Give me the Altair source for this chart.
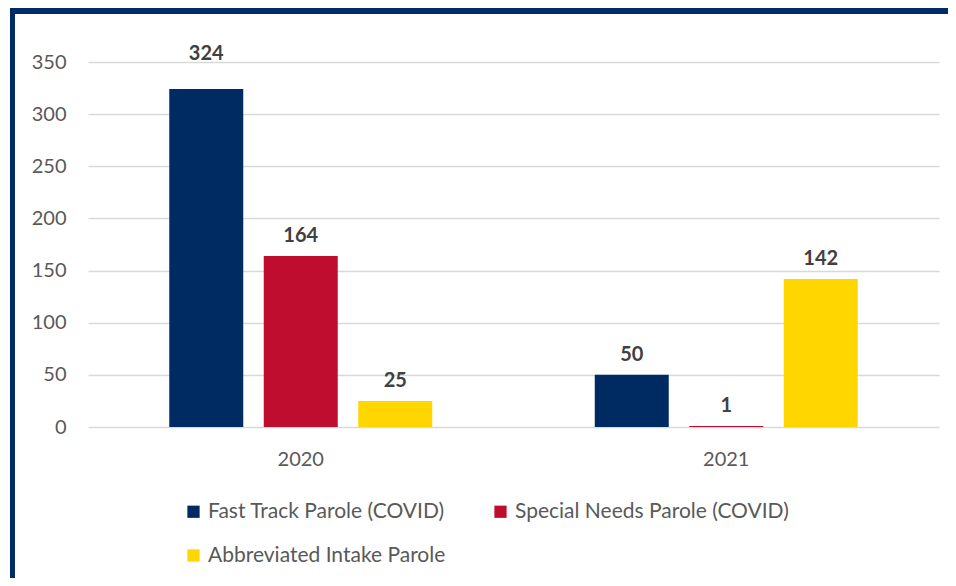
import altair as alt
import pandas as pd

years = ["2020", "2021"]
series = ["Fast Track Parole (COVID)", "Special Needs Parole (COVID)", "Abbreviated Intake Parole"]
fast_track = [324, 50]
special_needs = [164, 1]
abbreviated = [25, 142]
colors = ["#002B62", "#BF0D30", "#FFD600"]

rows = []
for s, vals in zip(series, [fast_track, special_needs, abbreviated]):
    for y, v in zip(years, vals):
        rows.append({"year": y, "series": s, "value": v})
df = pd.DataFrame(rows)

FONT = "Lato"
FS = 20

x = alt.X("year:N", scale=alt.Scale(domain=years, paddingInner=0, paddingOuter=0),
          axis=alt.Axis(title=None, labelAngle=0, domain=False, ticks=False, grid=False,
                        labelPadding=22, labelFontSize=FS, labelColor="#595959", labelFont=FONT))
xo = alt.XOffset("series:N", scale=alt.Scale(domain=series, paddingInner=0.217, paddingOuter=0.86))
y = alt.Y("value:Q", scale=alt.Scale(domain=[0, 350], nice=False),
          axis=alt.Axis(title=None, values=list(range(0, 351, 50)), domain=False, ticks=False,
                        labelPadding=22, labelFontSize=FS, labelColor="#595959", labelFont=FONT,
                        gridColor="#D9D9D9", gridWidth=1.5))
color = alt.Color("series:N", scale=alt.Scale(domain=series, range=colors),
                  legend=alt.Legend(title=None, orient="none", legendX=95, legendY=439,
                                    direction="horizontal", columns=2, columnPadding=44,
                                    rowPadding=22, labelLimit=400, padding=0,
                                    symbolType="square", symbolSize=150, symbolStrokeWidth=0,
                                    labelFont=FONT, labelFontSize=21, labelColor="#595959",
                                    labelOffset=4, symbolOpacity=1))

base = alt.Chart(df)
bars = base.mark_bar(opacity=1).encode(x=x, xOffset=xo, y=y, color=color)
labels_low = base.transform_filter("datum.value <= 300").mark_text(
    dy=-20, fontSize=FS, fontWeight="bold", color="#404040", font=FONT, baseline="middle"
).encode(x=x, xOffset=xo, y=y, text=alt.Text("value:Q", format="d"))
labels_high = base.transform_filter("datum.value > 300").mark_text(
    dy=-35, fontSize=FS, fontWeight="bold", color="#404040", font=FONT, baseline="middle"
).encode(x=x, xOffset=xo, y=y, text=alt.Text("value:Q", format="d"))

frame_left = alt.Chart(pd.DataFrame({"a": [0]})).mark_rule(color="#002B66", strokeWidth=5).encode(
    x=alt.value(-75.5), y=alt.value(-53), y2=alt.value(600))
frame_top = alt.Chart(pd.DataFrame({"a": [0]})).mark_rule(color="#002B66", strokeWidth=6).encode(
    x=alt.value(-78), x2=alt.value(900), y=alt.value(-51))

chart = alt.layer(frame_left, frame_top, bars, labels_low, labels_high).properties(
    width=851, height=365,
    autosize=alt.AutoSizeParams(type="none"),
    padding={"left": 80, "top": 54, "right": 9, "bottom": 151},
    background="white",
).configure_view(stroke=None)

chart.save("out.html", embed_options={"renderer": "svg", "actions": False})
